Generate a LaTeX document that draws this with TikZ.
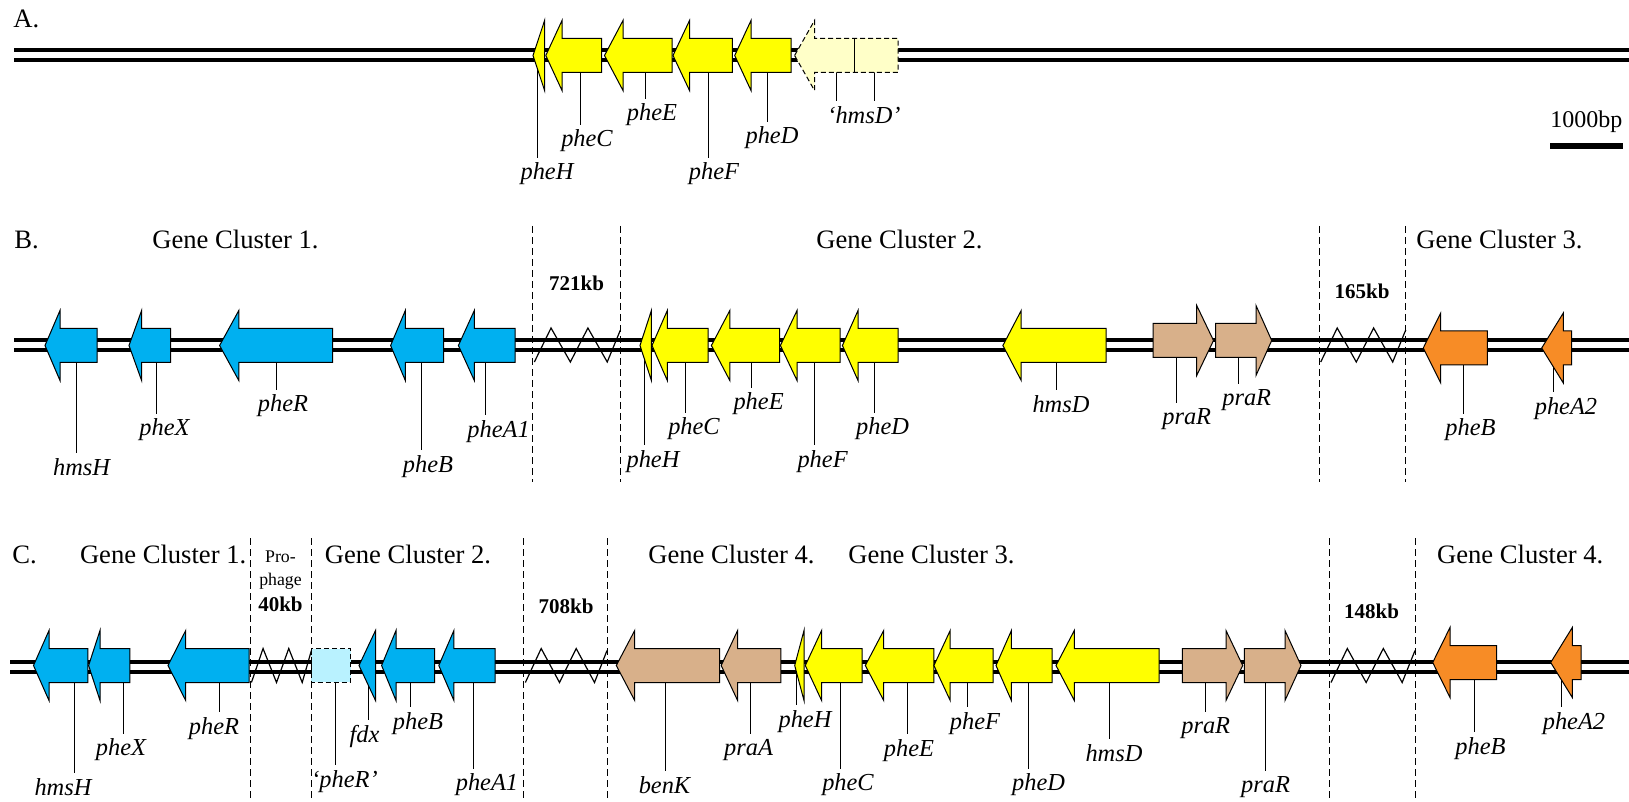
\documentclass[tikz,border=0pt]{standalone}
\usepackage{fontspec}
\setmainfont{Liberation Serif}
\definecolor{cblue}{RGB}{0,176,240}
\definecolor{cyel}{RGB}{255,255,0}
\definecolor{clyel}{RGB}{255,255,200}
\definecolor{ctan}{RGB}{216,176,138}
\definecolor{corange}{RGB}{247,140,38}
\definecolor{clcyan}{RGB}{185,242,255}
\newcommand{\genL}[5]{\path[#5] (#1,#4) -- (#2,{#4-35}) -- (#2,{#4-17}) -- (#3,{#4-17}) -- (#3,{#4+17}) -- (#2,{#4+17}) -- (#2,{#4+35}) -- cycle;}
\newcommand{\genR}[5]{\path[#5] (#3,#4) -- (#2,{#4-35}) -- (#2,{#4-17}) -- (#1,{#4-17}) -- (#1,{#4+17}) -- (#2,{#4+17}) -- (#2,{#4+35}) -- cycle;}
\newcommand{\genH}[4]{\path[#4] (#1,#3) -- (#2,{#3-35}) -- (#2,{#3+35}) -- cycle;}
\newcommand{\glab}[6]{\coordinate (g#1) at (#2,#3);
  \node[glabel] (l#1) at (#4,#5) {#6};
  \draw[tick] (g#1) -- (g#1 |- l#1.north);}
\newcommand{\zz}[3]{\draw[zig] ({#1+0.02*(#2-#1)},{#3+17}) -- ({#1+0.21*(#2-#1)},{#3-17}) -- ({#1+0.43*(#2-#1)},{#3+17}) -- ({#1+0.63*(#2-#1)},{#3-17}) -- ({#1+0.85*(#2-#1)},{#3+17}) -- (#2,{#3-15});}
\begin{document}
\begin{tikzpicture}[x=0.5pt,y=-0.5pt,
  dna/.style={line width=2pt},
  gene/.style={draw=black,line width=0.5pt},
  blu/.style={gene,fill=cblue},
  yel/.style={gene,fill=cyel},
  tan/.style={gene,fill=ctan},
  ora/.style={gene,fill=corange},
  pseudo/.style={draw=black,line width=0.5pt,dash pattern=on 2.5pt off 1.5pt},
  glabel/.style={font=\fontsize{12.2}{14}\itshape,inner sep=0pt},
  tick/.style={line width=0.5pt,shorten >=2.5pt},
  cluster/.style={font=\fontsize{13.3}{16}\selectfont,anchor=base west,inner sep=0pt},
  kb/.style={font=\fontsize{10.5}{12}\selectfont\bfseries,anchor=base,inner sep=0pt},
  small/.style={font=\fontsize{8.9}{10}\selectfont,anchor=base,inner sep=0pt},
  divider/.style={line width=0.5pt,dash pattern=on 3.5pt off 2pt},
  zig/.style={line width=0.6pt}]
\useasboundingbox[fill=white] (0,0) rectangle (1629,802);
% ---- DNA double lines
\foreach \yy in {50.5,60.5} {\draw[dna] (14,\yy) -- (1629,\yy);}
\foreach \yy in {340.5,350.5} {\draw[dna] (14,\yy) -- (1629,\yy);}
\foreach \yy in {661.5,671.5} {\draw[dna] (10,\yy) -- (1629,\yy);}
% ================= Row A
\node[cluster] (labA) at (13,28) {A.};
\glab{A-pheH}{537}{55.5}{547}{174}{pheH}
\glab{A-pheC}{580}{55.5}{587}{141}{pheC}
\glab{A-pheE}{645.5}{55.5}{652}{115}{pheE}
\glab{A-pheF}{708}{55.5}{714}{174}{pheF}
\glab{A-pheD}{767.6}{55.5}{772}{138}{pheD}
\coordinate (gA-hmsD1) at (836,55.5);
\coordinate (gA-hmsD2) at (874,55.5);
\node[glabel] (lA-hmsD) at (864,115) {‘hmsD’};
\draw[tick] (gA-hmsD1) -- (gA-hmsD1 |- lA-hmsD.north);
\draw[tick] (gA-hmsD2) -- (gA-hmsD2 |- lA-hmsD.north);
\genH{533}{544.6}{55.5}{yel}
\genL{545.8}{562}{601.5}{55.5}{yel}
\genL{604.5}{623}{672}{55.5}{yel}
\genL{673}{689.5}{732.4}{55.5}{yel}
\genL{734.7}{751}{791}{55.5}{yel}
\genL{794.6}{814.5}{898}{55.5}{pseudo,fill=clyel}
\draw[line width=0.5pt] (854,38.5) -- (854,72.5);
\node[font=\fontsize{12}{14}\selectfont,anchor=base west,inner sep=0pt] (scale) at (1550,128) {1000bp};
\draw[line width=3pt] (scale.west |- 0,146.3) -- (scale.east |- 0,146.3);
% ================= Row B
\node[cluster] (labB) at (14,249) {B.};
\node[cluster] (gcB1) at (152,249) {Gene Cluster 1.};
\node[cluster] (gcB2) at (816,249) {Gene Cluster 2.};
\node[cluster] (gcB3) at (1416,249) {Gene Cluster 3.};
\node[kb] (kbB1) at (576.5,290.7) {721kb};
\node[kb] (kbB2) at (1362,298.3) {165kb};
\glab{B-hmsH}{76.3}{345.5}{81.6}{466.7}{hmsH}
\glab{B-pheX}{156}{345.5}{164.5}{430}{pheX}
\glab{B-pheR}{276}{345.5}{283}{406}{pheR}
\glab{B-pheB}{421}{345.5}{428}{466.7}{pheB}
\glab{B-pheA1}{485.7}{345.5}{498.6}{431.7}{pheA1}
\glab{B-pheH}{644}{345.5}{653}{461.7}{pheH}
\glab{B-pheC}{685.7}{345.5}{694}{429}{pheC}
\glab{B-pheE}{751.8}{345.5}{758.6}{404}{pheE}
\glab{B-pheF}{814}{345.5}{822.6}{461.7}{pheF}
\glab{B-pheD}{874.3}{345.5}{882.6}{429}{pheD}
\glab{B-hmsD}{1056}{345.5}{1061}{404}{hmsD}
\glab{B-praR1}{1176.7}{340.5}{1186.7}{419}{praR}
\glab{B-praR2}{1238.3}{340.5}{1246.7}{400}{praR}
\glab{B-pheBo}{1463.3}{348}{1470.5}{430}{pheB}
\glab{B-pheA2}{1553.3}{348}{1566}{408.3}{pheA2}
\genL{45}{60}{97}{345.5}{blu}
\genL{129}{141.6}{170.6}{345.5}{blu}
\genL{219.6}{238.8}{332.7}{345.5}{blu}
\genL{390.6}{405.3}{443.7}{345.5}{blu}
\genL{458.4}{474.3}{515}{345.5}{blu}
\genH{640}{651.4}{345.5}{yel}
\genL{652}{667.3}{708}{345.5}{yel}
\genL{711.4}{729.8}{779.6}{345.5}{yel}
\genL{780.4}{797}{840}{345.5}{yel}
\genL{842.4}{858}{898}{345.5}{yel}
\genL{1002.9}{1021.2}{1106}{345.5}{yel}
\genR{1153}{1196.7}{1213.5}{340.5}{tan}
\genR{1215.7}{1256}{1271.7}{340.5}{tan}
\genL{1423.3}{1440.7}{1487.3}{348}{ora}
\genL{1541.7}{1563.3}{1571.7}{348}{ora}
\zz{532.6}{620.4}{345}
\zz{1319}{1405.7}{345}
\foreach \xx in {532.6,620.4,1319,1405.7} {\draw[divider] (\xx,226) -- (\xx,482);}
% ================= Row C
\node[cluster] (labC) at (12,563) {C.};
\node[cluster] (gcC1) at (79.6,563) {Gene Cluster 1.};
\node[cluster] (gcC2) at (324.5,563) {Gene Cluster 2.};
\node[cluster] (gcC4a) at (648,563) {Gene Cluster 4.};
\node[cluster] (gcC3) at (848,563) {Gene Cluster 3.};
\node[cluster] (gcC4b) at (1436.7,563) {Gene Cluster 4.};
\node[small] (pro1) at (280.5,562) {Pro-};
\node[small] (pro2) at (280.5,585) {phage};
\node[kb] (kbC0) at (280.5,611.7) {40kb};
\node[kb] (kbC1) at (566,613.3) {708kb};
\node[kb] (kbC2) at (1371.5,618.3) {148kb};
\glab{C-hmsH}{74.3}{665.5}{63}{786.7}{hmsH}
\glab{C-pheX}{123.3}{665.5}{121}{750}{pheX}
\glab{C-pheR}{219.2}{665.5}{214}{728.3}{pheR}
\glab{C-pheRq}{335.5}{665.5}{344.5}{781.7}{‘pheR’}
\glab{C-fdx}{368}{665.5}{364.5}{736.7}{fdx}
\glab{C-pheB}{410.2}{665.5}{418}{723.3}{pheB}
\glab{C-pheA1}{473.5}{665.5}{487}{785}{pheA1}
\glab{C-benK}{665.3}{665.5}{664.5}{785}{benK}
\glab{C-praA}{750.2}{665.5}{748.6}{750}{praA}
\glab{C-pheH}{796.7}{665.5}{805}{721.7}{pheH}
\glab{C-pheC}{840.8}{665.5}{848}{785}{pheC}
\glab{C-pheE}{907}{665.5}{909}{750.7}{pheE}
\glab{C-pheF}{967.3}{665.5}{975}{723.3}{pheF}
\glab{C-pheD}{1028.6}{665.5}{1038.6}{785}{pheD}
\glab{C-hmsD}{1109}{665.5}{1114}{753.3}{hmsD}
\glab{C-praR1}{1205.3}{665.5}{1205.7}{728.3}{praR}
\glab{C-praR2}{1265}{665.5}{1265.5}{786.7}{praR}
\glab{C-pheBo}{1474}{662.5}{1480.5}{748.3}{pheB}
\glab{C-pheA2}{1561}{662.5}{1574}{723.3}{pheA2}
\genL{33.5}{49}{87.8}{665.5}{blu}
\genL{88.6}{100}{129.8}{665.5}{blu}
\genL{168}{185.7}{249}{665.5}{blu}
\path[pseudo,fill=clcyan] (311,648.5) rectangle (350.5,682);
\genH{359}{375.5}{665.5}{blu}
\genL{381.6}{396}{434.7}{665.5}{blu}
\genL{438.8}{453.9}{495}{665.5}{blu}
\genL{616.3}{634.7}{719.6}{665.5}{tan}
\genL{721.2}{737.6}{780.8}{665.5}{tan}
\genH{794.7}{804}{665.5}{yel}
\genL{805.3}{821.6}{862}{665.5}{yel}
\genL{865.3}{883.7}{933.9}{665.5}{yel}
\genL{933.9}{950.2}{993}{665.5}{yel}
\genL{996}{1011.4}{1052.2}{665.5}{yel}
\genL{1056}{1074.3}{1159.2}{665.5}{yel}
\genR{1182.4}{1226}{1242.7}{665.5}{tan}
\genR{1244.3}{1285}{1301}{665.5}{tan}
\genL{1432.7}{1450}{1496.7}{662.5}{ora}
\genL{1550.7}{1572.3}{1581}{662.5}{ora}
\zz{250.2}{311.4}{665.5}
\zz{523.7}{607}{665.5}
\zz{1329.3}{1415}{665.5}
\foreach \xx in {250.2,311.4,523.7,607,1329.3,1415} {\draw[divider] (\xx,538) -- (\xx,802);}
\end{tikzpicture}
\end{document}
